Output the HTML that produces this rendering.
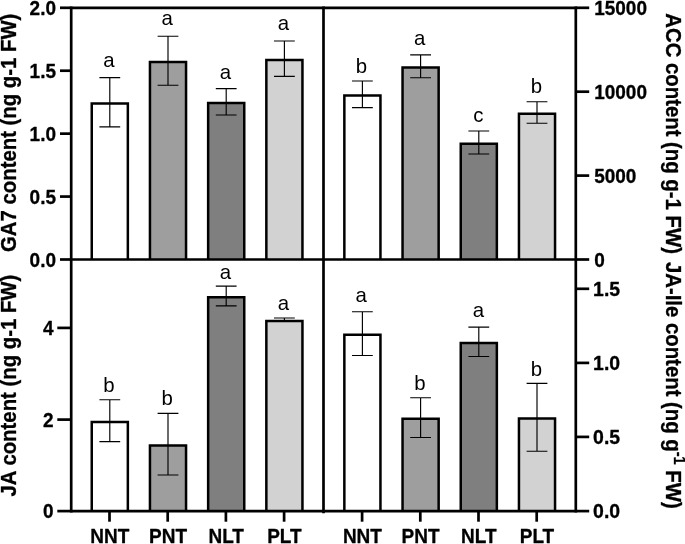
<!DOCTYPE html>
<html><head><meta charset="utf-8"><title>Hormone content</title>
<style>
html,body{margin:0;padding:0;background:#fff;}
body{width:685px;height:544px;overflow:hidden;font-family:"Liberation Sans", sans-serif;}
svg{will-change:transform;}
svg text{font-family:"Liberation Sans", sans-serif;fill:#000;}
</style></head><body>
<svg width="685" height="544" viewBox="0 0 685 544" style="display:block">
<rect width="685" height="544" fill="#fff"/>
<path d="M91.75 259.50V103.45H127.85V259.50" fill="#ffffff" stroke="#000" stroke-width="2.5" stroke-linejoin="miter"/>
<path d="M149.95 259.50V61.95H186.05V259.50" fill="#9e9e9e" stroke="#000" stroke-width="2.5" stroke-linejoin="miter"/>
<path d="M208.15 259.50V103.05H244.25V259.50" fill="#7f7f7f" stroke="#000" stroke-width="2.5" stroke-linejoin="miter"/>
<path d="M266.35 259.50V59.95H302.45V259.50" fill="#d2d2d2" stroke="#000" stroke-width="2.5" stroke-linejoin="miter"/>
<path d="M109.80 77.60V126.80M99.40 77.60H120.20M99.40 126.80H120.20" stroke="#000" stroke-width="1.15" fill="none"/>
<path d="M168.00 36.20V85.20M157.60 36.20H178.40M157.60 85.20H178.40" stroke="#000" stroke-width="1.15" fill="none"/>
<path d="M226.20 88.60V115.00M215.80 88.60H236.60M215.80 115.00H236.60" stroke="#000" stroke-width="1.15" fill="none"/>
<path d="M284.40 41.00V76.40M274.00 41.00H294.80M274.00 76.40H294.80" stroke="#000" stroke-width="1.15" fill="none"/>
<text x="109.00" y="66.6" font-size="20.4" text-anchor="middle">a</text>
<text x="167.20" y="25.0" font-size="20.4" text-anchor="middle">a</text>
<text x="225.30" y="78.8" font-size="20.4" text-anchor="middle">a</text>
<text x="283.50" y="30.0" font-size="20.4" text-anchor="middle">a</text>
<path d="M344.35 259.50V95.55H380.45V259.50" fill="#ffffff" stroke="#000" stroke-width="2.5" stroke-linejoin="miter"/>
<path d="M402.55 259.50V67.55H438.65V259.50" fill="#9e9e9e" stroke="#000" stroke-width="2.5" stroke-linejoin="miter"/>
<path d="M460.75 259.50V143.75H496.85V259.50" fill="#7f7f7f" stroke="#000" stroke-width="2.5" stroke-linejoin="miter"/>
<path d="M518.95 259.50V113.75H555.05V259.50" fill="#d2d2d2" stroke="#000" stroke-width="2.5" stroke-linejoin="miter"/>
<path d="M362.40 80.95V107.65M352.00 80.95H372.80M352.00 107.65H372.80" stroke="#000" stroke-width="1.15" fill="none"/>
<path d="M420.60 54.85V77.75M410.20 54.85H431.00M410.20 77.75H431.00" stroke="#000" stroke-width="1.15" fill="none"/>
<path d="M478.80 131.00V154.00M468.40 131.00H489.20M468.40 154.00H489.20" stroke="#000" stroke-width="1.15" fill="none"/>
<path d="M537.00 101.75V123.25M526.60 101.75H547.40M526.60 123.25H547.40" stroke="#000" stroke-width="1.15" fill="none"/>
<text x="361.50" y="72.7" font-size="20.4" text-anchor="middle">b</text>
<text x="419.70" y="44.5" font-size="20.4" text-anchor="middle">a</text>
<text x="478.40" y="122.4" font-size="20.4" text-anchor="middle">c</text>
<text x="536.40" y="92.8" font-size="20.4" text-anchor="middle">b</text>
<path d="M91.75 511.10V421.95H127.85V511.10" fill="#ffffff" stroke="#000" stroke-width="2.5" stroke-linejoin="miter"/>
<path d="M149.95 511.10V445.45H186.05V511.10" fill="#9e9e9e" stroke="#000" stroke-width="2.5" stroke-linejoin="miter"/>
<path d="M208.15 511.10V297.25H244.25V511.10" fill="#7f7f7f" stroke="#000" stroke-width="2.5" stroke-linejoin="miter"/>
<path d="M266.35 511.10V320.95H302.45V511.10" fill="#d2d2d2" stroke="#000" stroke-width="2.5" stroke-linejoin="miter"/>
<path d="M109.80 399.75V441.65M99.40 399.75H120.20M99.40 441.65H120.20" stroke="#000" stroke-width="1.15" fill="none"/>
<path d="M168.00 413.40V475.00M157.60 413.40H178.40M157.60 475.00H178.40" stroke="#000" stroke-width="1.15" fill="none"/>
<path d="M226.20 286.15V305.85M215.80 286.15H236.60M215.80 305.85H236.60" stroke="#000" stroke-width="1.15" fill="none"/>
<path d="M284.40 318.00V321.40M274.00 318.00H294.80M274.00 321.40H294.80" stroke="#000" stroke-width="1.15" fill="none"/>
<text x="109.00" y="392.0" font-size="20.4" text-anchor="middle">b</text>
<text x="167.20" y="405.0" font-size="20.4" text-anchor="middle">b</text>
<text x="225.30" y="278.5" font-size="20.4" text-anchor="middle">a</text>
<text x="283.50" y="309.6" font-size="20.4" text-anchor="middle">a</text>
<path d="M344.35 511.10V334.85H380.45V511.10" fill="#ffffff" stroke="#000" stroke-width="2.5" stroke-linejoin="miter"/>
<path d="M402.55 511.10V418.85H438.65V511.10" fill="#9e9e9e" stroke="#000" stroke-width="2.5" stroke-linejoin="miter"/>
<path d="M460.75 511.10V343.05H496.85V511.10" fill="#7f7f7f" stroke="#000" stroke-width="2.5" stroke-linejoin="miter"/>
<path d="M518.95 511.10V418.55H555.05V511.10" fill="#d2d2d2" stroke="#000" stroke-width="2.5" stroke-linejoin="miter"/>
<path d="M362.40 311.70V355.50M352.00 311.70H372.80M352.00 355.50H372.80" stroke="#000" stroke-width="1.15" fill="none"/>
<path d="M420.60 397.75V437.45M410.20 397.75H431.00M410.20 437.45H431.00" stroke="#000" stroke-width="1.15" fill="none"/>
<path d="M478.80 327.10V356.50M468.40 327.10H489.20M468.40 356.50H489.20" stroke="#000" stroke-width="1.15" fill="none"/>
<path d="M537.00 383.35V451.25M526.60 383.35H547.40M526.60 451.25H547.40" stroke="#000" stroke-width="1.15" fill="none"/>
<text x="361.20" y="301.9" font-size="20.4" text-anchor="middle">a</text>
<text x="419.90" y="390.2" font-size="20.4" text-anchor="middle">b</text>
<text x="478.40" y="317.2" font-size="20.4" text-anchor="middle">a</text>
<text x="536.40" y="375.5" font-size="20.4" text-anchor="middle">b</text>
<g stroke="#000" stroke-width="2.7" fill="none" stroke-linecap="butt">
<path d="M71.2 6.449999999999999V512.45"/>
<path d="M323.5 6.449999999999999V513.25"/>
<path d="M575.8 6.449999999999999V512.45"/>
<path d="M71.2 7.8H575.8"/>
<path d="M71.2 259.5H575.8"/>
<path d="M71.2 511.1H575.8"/>
<path d="M60.0 7.80H71.2"/>
<path d="M60.0 70.72H71.2"/>
<path d="M60.0 133.65H71.2"/>
<path d="M60.0 196.57H71.2"/>
<path d="M60.0 259.50H71.2"/>
<path d="M57.3 511.10H71.2"/>
<path d="M57.3 419.60H71.2"/>
<path d="M57.3 327.90H71.2"/>
<path d="M575.8 7.80H589.2"/>
<path d="M575.8 91.70H589.2"/>
<path d="M575.8 175.60H589.2"/>
<path d="M575.8 259.50H589.2"/>
<path d="M575.8 511.10H589.2"/>
<path d="M575.8 436.90H589.2"/>
<path d="M575.8 362.90H589.2"/>
<path d="M575.8 288.80H589.2"/>
<path d="M109.50 511.1V521.7"/>
<path d="M167.70 511.1V521.7"/>
<path d="M225.90 511.1V521.7"/>
<path d="M284.10 511.1V521.7"/>
<path d="M362.10 511.1V521.7"/>
<path d="M420.30 511.1V521.7"/>
<path d="M478.50 511.1V521.7"/>
<path d="M536.70 511.1V521.7"/>
</g>
<g font-weight="bold" font-size="19.0" stroke="#000" stroke-width="0.3" stroke-linejoin="round">
<text transform="translate(56.0 15.06) scale(1 1.065)" text-anchor="end">2.0</text>
<text transform="translate(56.0 77.99) scale(1 1.065)" text-anchor="end">1.5</text>
<text transform="translate(56.0 140.91) scale(1 1.065)" text-anchor="end">1.0</text>
<text transform="translate(56.0 203.84) scale(1 1.065)" text-anchor="end">0.5</text>
<text transform="translate(56.0 266.76) scale(1 1.065)" text-anchor="end">0.0</text>
<text transform="translate(53.6 518.36) scale(1 1.065)" text-anchor="end">0</text>
<text transform="translate(53.6 426.86) scale(1 1.065)" text-anchor="end">2</text>
<text transform="translate(53.6 335.16) scale(1 1.065)" text-anchor="end">4</text>
<text transform="translate(594.2 15.26) scale(1 1.065)">15000</text>
<text transform="translate(594.2 99.16) scale(1 1.065)">10000</text>
<text transform="translate(594.2 183.06) scale(1 1.065)">5000</text>
<text transform="translate(594.2 266.96) scale(1 1.065)">0</text>
<text transform="translate(593.1 518.06) scale(1.025 1.065)">0.0</text>
<text transform="translate(593.1 443.86) scale(1.025 1.065)">0.5</text>
<text transform="translate(593.1 369.86) scale(1.025 1.065)">1.0</text>
<text transform="translate(593.1 295.76) scale(1.025 1.065)">1.5</text>
<text transform="translate(109.8 543.3) scale(1 1.065)" text-anchor="middle">NNT</text>
<text transform="translate(168.0 543.3) scale(1 1.065)" text-anchor="middle">PNT</text>
<text transform="translate(226.2 543.3) scale(1 1.065)" text-anchor="middle">NLT</text>
<text transform="translate(284.4 543.3) scale(1 1.065)" text-anchor="middle">PLT</text>
<text transform="translate(362.4 543.3) scale(1 1.065)" text-anchor="middle">NNT</text>
<text transform="translate(420.6 543.3) scale(1 1.065)" text-anchor="middle">PNT</text>
<text transform="translate(478.8 543.3) scale(1 1.065)" text-anchor="middle">NLT</text>
<text transform="translate(537.0 543.3) scale(1 1.065)" text-anchor="middle">PLT</text>
</g>
<g font-weight="bold" font-size="20.35" stroke="#000" stroke-width="0.3" stroke-linejoin="round">
<text transform="translate(16.3 132.8) rotate(-90) scale(1 1.12)" text-anchor="middle">GA7 content (ng g-1 FW)</text>
<text transform="translate(16.3 385.6) rotate(-90) scale(1 1.12)" text-anchor="middle">JA content (ng g-1 FW)</text>
<text transform="translate(665.6 133.6) rotate(90) scale(1 1.12)" text-anchor="middle">ACC content (ng g-1 FW)</text>
<text transform="translate(665.6 385.3) rotate(90) scale(1 1.12)" text-anchor="middle">JA-Ile content (ng g<tspan font-size="14.5" dy="-7.4">-1</tspan><tspan dy="7.4"> FW)</tspan></text>
</g>
</svg>
</body></html>
